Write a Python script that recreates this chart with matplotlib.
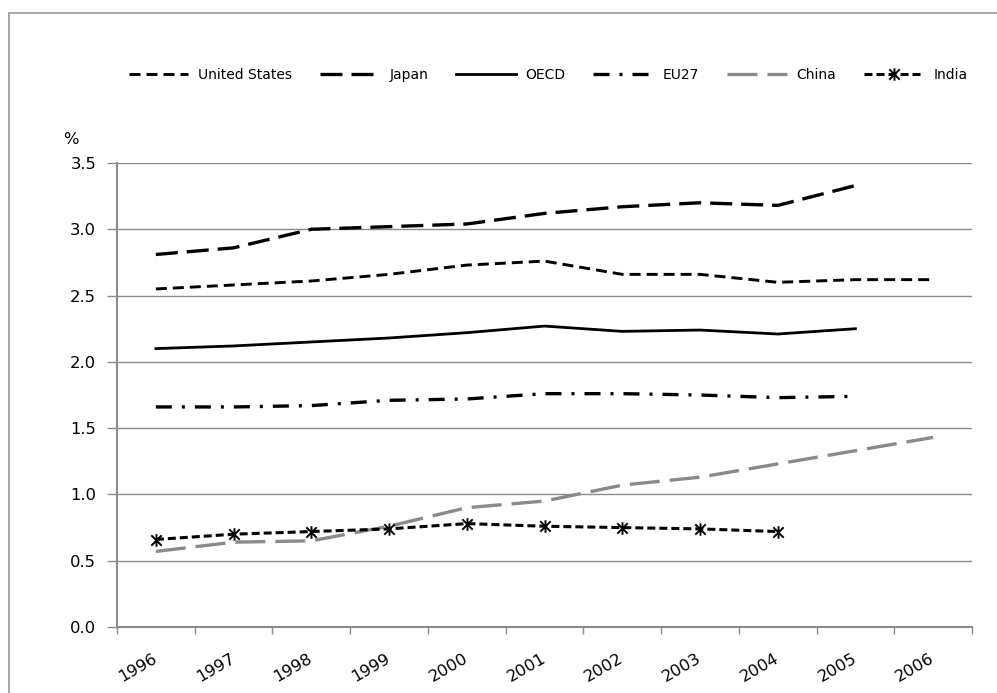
import numpy as np
import matplotlib
matplotlib.use("Agg")
import matplotlib.pyplot as plt
from matplotlib.path import Path
from matplotlib.lines import Line2D

plt.rcParams['font.family'] = ['DejaVu Sans']
plt.rcParams['lines.scale_dashes'] = False

years = ["1996", "1997", "1998", "1999", "2000", "2001",
         "2002", "2003", "2004", "2005", "2006"]

united_states = [2.55, 2.58, 2.61, 2.66, 2.73, 2.76, 2.66, 2.66, 2.60, 2.62, 2.62]
japan = [2.81, 2.86, 3.00, 3.02, 3.04, 3.12, 3.17, 3.20, 3.18, 3.33]
oecd = [2.10, 2.12, 2.15, 2.18, 2.22, 2.27, 2.23, 2.24, 2.21, 2.25]
eu27 = [1.66, 1.66, 1.67, 1.71, 1.72, 1.76, 1.76, 1.75, 1.73, 1.74]
china = [0.57, 0.64, 0.65, 0.76, 0.90, 0.95, 1.07, 1.13, 1.23, 1.33, 1.43]
india = [0.66, 0.70, 0.72, 0.74, 0.78, 0.76, 0.75, 0.74, 0.72]

y_ticks = [0.0, 0.5, 1.0, 1.5, 2.0, 2.5, 3.0, 3.5]

W, H = 997, 693
fig = plt.figure(figsize=(W / 100, H / 100), dpi=100)
ax = fig.add_axes([117 / W, 1 - 627 / H, (972 - 117) / W, (627 - 163) / H])

gray = '#8c8c8c'

# chart frame (top and left edges)
frame_kw = dict(transform=fig.transFigure, color='#9a9a9a', linewidth=1.2)
fig.lines.append(Line2D([9 / W, 1.0], [1 - 13 / H, 1 - 13 / H], **frame_kw))
fig.lines.append(Line2D([9 / W, 9 / W], [0.0, 1 - 13 / H], **frame_kw))

# asterisk marker: an x crossed by a vertical stroke
star = Path([(-1, -1), (1, 1), (-1, 1), (1, -1), (0, -1.2), (0, 1.2)],
            [Path.MOVETO, Path.LINETO, Path.MOVETO, Path.LINETO,
             Path.MOVETO, Path.LINETO])

px = 0.72  # points per pixel

ax.plot(np.arange(len(united_states)), united_states, color='black', lw=2.1,
        dashes=(11 * px, 6 * px), label='United States')
ax.plot(np.arange(len(japan)), japan, color='black', lw=2.4,
        dashes=(22 * px, 9 * px), label='Japan')
ax.plot(np.arange(len(oecd)), oecd, color='black', lw=2.0, label='OECD')
ax.plot(np.arange(len(eu27)), eu27, color='black', lw=2.4,
        dashes=(16 * px, 10 * px, 3 * px, 10 * px), label='EU27')
ax.plot(np.arange(len(china)), china, color='#8a8a8a', lw=2.4,
        dashes=(30 * px, 10 * px), label='China')
ax.plot(np.arange(len(india)), india, color='black', lw=2.2,
        dashes=(8 * px, 4 * px), marker=star, markersize=9,
        markeredgewidth=1.4, markerfacecolor='none', markeredgecolor='black',
        label='India')

ax.set_ylim(0, 3.5)
ax.set_xlim(-0.5, len(years) - 0.5)
ax.set_yticks(y_ticks)
ax.set_yticklabels([f"{v:.1f}" for v in y_ticks], fontsize=11.8)
ax.tick_params(axis='y', length=7, width=1, color=gray, pad=8)

ax.set_xticks(np.arange(-0.5, len(years), 1))
ax.set_xticklabels([''] * (len(years) + 1))
ax.tick_params(axis='x', which='major', length=5, width=1, color=gray)
ax.set_xticks(np.arange(len(years)), minor=True)
ax.set_xticklabels(years, minor=True, rotation=30, ha='right', va='center',
                   rotation_mode='anchor', fontsize=11.8)
ax.tick_params(axis='x', which='minor', length=0, pad=21.5)

ax.grid(axis='y', color=gray, lw=1.0)
ax.set_axisbelow(True)
for s in ('top', 'right'):
    ax.spines[s].set_visible(False)
for s in ('left', 'bottom'):
    ax.spines[s].set_color(gray)
    ax.spines[s].set_linewidth(1.5)

fig.text(71 / W, 1 - 140 / H, '%', fontsize=11.8, ha='center', va='center')

fig.legend(loc='center', bbox_to_anchor=(548 / W, 1 - 75 / H), ncol=6,
           frameon=False, fontsize=10, handlelength=4.3, columnspacing=2.0,
           handletextpad=0.7)

fig.savefig('out.png', dpi=100)
